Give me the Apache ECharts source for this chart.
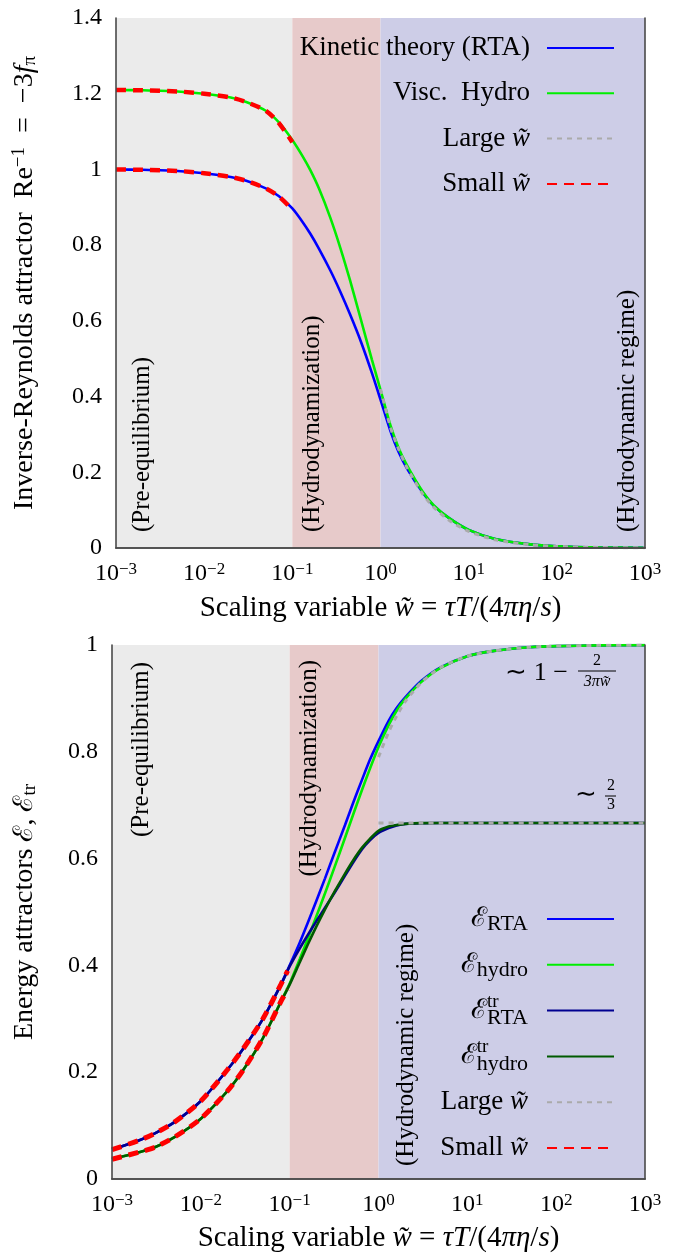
<!DOCTYPE html>
<html><head><meta charset="utf-8">
<script src="https://cdn.jsdelivr.net/npm/echarts@6/dist/echarts.min.js"></script>
<style>html,body{margin:0;padding:0;background:#fff}#c{width:687px;height:1254px}</style>
</head><body><div id="c"></div>
<script>
// ---------------- data: top panel (inverse Reynolds attractor) ----------------
const topW          = [0.001, 0.002, 0.005, 0.01, 0.02, 0.03, 0.05, 0.07, 0.1, 0.13, 0.16, 0.2, 0.27, 0.35, 0.45, 0.6, 0.8, 1, 1.3, 1.6, 2, 3, 4, 6, 10, 20, 50, 100, 300, 1000];
const topRTA        = [1.0, 0.999, 0.996, 0.99, 0.98, 0.97, 0.95, 0.93, 0.897, 0.862, 0.83, 0.791, 0.733, 0.677, 0.618, 0.545, 0.462, 0.392, 0.308, 0.254, 0.21, 0.147, 0.112, 0.079, 0.048, 0.024, 0.0095, 0.0047, 0.0016, 0.0005];
const topHydro      = [1.21, 1.209, 1.206, 1.2, 1.19, 1.178, 1.155, 1.125, 1.078, 1.036, 0.998, 0.95, 0.872, 0.793, 0.708, 0.603, 0.497, 0.418, 0.323, 0.265, 0.218, 0.149, 0.113, 0.079, 0.048, 0.024, 0.0095, 0.0047, 0.0016, 0.0005];
const topLargeW     = [1, 1.3, 1.6, 2, 3, 4, 6, 10, 20, 50, 100, 300, 1000];
const topLarge      = [0.42, 0.318, 0.262, 0.212, 0.143, 0.108, 0.073, 0.044, 0.0215, 0.0085, 0.0042, 0.0014, 0.0004];
const topSmallW     = [0.001, 0.002, 0.005, 0.01, 0.02, 0.03, 0.05, 0.07, 0.1];
const topSmallRTA   = [1.0, 0.999, 0.996, 0.99, 0.98, 0.97, 0.95, 0.929, 0.894];
const topSmallHydro = [1.21, 1.209, 1.206, 1.2, 1.19, 1.178, 1.155, 1.123, 1.072];

// ---------------- data: bottom panel (energy attractors) ----------------
const botW         = [0.001, 0.002, 0.003, 0.005, 0.01, 0.02, 0.03, 0.05, 0.08, 0.1, 0.13, 0.16, 0.2, 0.25, 0.32, 0.42, 0.52, 0.65, 0.8, 1, 1.3, 1.6, 2, 3, 5, 10, 20, 50, 100, 300, 1000];
const botERTA      = [0.055, 0.072, 0.085, 0.106, 0.146, 0.205, 0.244, 0.3, 0.365, 0.4, 0.443, 0.48, 0.521, 0.563, 0.611, 0.663, 0.705, 0.747, 0.785, 0.82, 0.858, 0.882, 0.902, 0.932, 0.958, 0.979, 0.989, 0.9957, 0.9979, 0.9993, 0.9998];
const botEhydro    = [0.037, 0.05, 0.059, 0.078, 0.113, 0.165, 0.204, 0.264, 0.333, 0.366, 0.412, 0.45, 0.492, 0.535, 0.584, 0.639, 0.683, 0.728, 0.768, 0.809, 0.85, 0.877, 0.899, 0.93, 0.957, 0.979, 0.989, 0.9957, 0.9979, 0.9993, 0.9998];
const botEtrRTA    = [0.055, 0.072, 0.085, 0.106, 0.146, 0.205, 0.244, 0.3, 0.364, 0.398, 0.432, 0.457, 0.483, 0.508, 0.536, 0.568, 0.593, 0.617, 0.634, 0.648, 0.657, 0.662, 0.665, 0.6663, 0.6667, 0.6667, 0.6667, 0.6667, 0.6667, 0.6667, 0.6667];
const botEtrHydro  = [0.037, 0.05, 0.059, 0.078, 0.113, 0.165, 0.204, 0.264, 0.332, 0.364, 0.406, 0.439, 0.473, 0.505, 0.538, 0.572, 0.597, 0.62, 0.637, 0.652, 0.66, 0.663, 0.665, 0.6664, 0.6667, 0.6667, 0.6667, 0.6667, 0.6667, 0.6667, 0.6667];
const botLargeW    = [1, 1.3, 1.6, 2, 3, 5, 10, 20, 50, 100, 300, 1000];
const botLargeE    = [0.79, 0.837, 0.867, 0.894, 0.929, 0.958, 0.979, 0.989, 0.9958, 0.9979, 0.9993, 0.9998];
const botLargeEtr  = [0.6667, 0.6667, 0.6667, 0.6667, 0.6667, 0.6667, 0.6667, 0.6667, 0.6667, 0.6667, 0.6667, 0.6667];
const botSmallW    = [0.001, 0.002, 0.003, 0.005, 0.01, 0.02, 0.03, 0.05, 0.08, 0.095];
const botSmallRTA  = [0.055, 0.072, 0.085, 0.106, 0.146, 0.205, 0.244, 0.3, 0.365, 0.39];
const botSmallHydro= [0.037, 0.05, 0.059, 0.078, 0.113, 0.165, 0.204, 0.264, 0.333, 0.355];

// regimes (x ranges) and labels
const regimeBounds = [[0.001, 0.1], [0.1, 1], [1, 1000]];
const regimeNames  = ['(Pre-equilibrium)', '(Hydrodynamization)', '(Hydrodynamic regime)'];
const xMin = 0.001, xMax = 1000;
const topYMax = 1.4, botYMax = 1, yStep = 0.2;

// ---------------- styling ----------------
const FONT = 'Liberation Serif';
const C = { rta:'#0000ff', hydro:'#00ee00', trRta:'#000090', trHydro:'#005a00', large:'#aaaaaa', small:'#ff0000',
            axis:'#4a4a4a', regime:['#ebebeb', '#e7caca', '#cdcde7'] };
const zip = (xs, ys) => xs.map((x, i) => [x, ys[i]]);

const tickRich = {
  b: { fontFamily: FONT, fontSize: 24, lineHeight: 26, color: '#000' },
  s: { fontFamily: FONT, fontSize: 17, lineHeight: 12, verticalAlign: 'top', color: '#000' }
};
const xNameRich = {
  r: { fontFamily: FONT, fontSize: 29, lineHeight: 30, color: '#000' },
  i: { fontFamily: FONT, fontSize: 29, lineHeight: 30, fontStyle: 'italic', color: '#000' }
};
const yNameRich = {
  r:   { fontFamily: FONT, fontSize: 28, lineHeight: 30, color: '#000' },
  i:   { fontFamily: FONT, fontSize: 28, lineHeight: 30, fontStyle: 'italic', color: '#000' },
  sup: { fontFamily: FONT, fontSize: 19, lineHeight: 12, verticalAlign: 'top', color: '#000' },
  sub: { fontFamily: FONT, fontSize: 19, lineHeight: 12, verticalAlign: 'bottom', color: '#000' },
  E:   { fontFamily: 'DejaVu Serif', fontSize: 27, lineHeight: 30, color: '#000' }
};
const legendRich = {
  r:    { fontFamily: FONT, fontSize: 27, lineHeight: 40, color: '#000' },
  i:    { fontFamily: FONT, fontSize: 27, lineHeight: 40, fontStyle: 'italic', color: '#000' },
  E:    { fontFamily: 'DejaVu Serif', fontSize: 27, lineHeight: 40, align: 'left', color: '#000' },
  sub:  { fontFamily: FONT, fontSize: 22, lineHeight: 40, height: 30, verticalAlign: 'bottom', align: 'left', color: '#000' },
  subT: { fontFamily: FONT, fontSize: 22, lineHeight: 40, height: 24, verticalAlign: 'bottom', align: 'left', color: '#000' },
  sup:  { fontFamily: FONT, fontSize: 19, lineHeight: 40, height: 22, verticalAlign: 'top', align: 'left', width: 0, color: '#000' }
};
const legendText = {
  'Kinetic theory (RTA)': '{r|Kinetic theory (RTA)}',
  'Visc. Hydro': '{r|Visc.  Hydro}',
  'Large w\u0303': '{r|Large }{i|w\u0303}',
  'Small w\u0303': '{r|Small }{i|w\u0303}',
  'E_RTA': '{E|\u2130}{sub|RTA}',
  'E_hydro': '{E|\u2130}{sub|hydro}',
  'Etr_RTA': '{E|\u2130}{sup|tr}{subT|RTA}',
  'Etr_hydro': '{E|\u2130}{sup|tr}{subT|hydro}'
};

function logLabel(v) {
  const e = Math.round(Math.log10(v));
  return '{b|10}{s|' + (e < 0 ? '\u2212' + (-e) : e) + '}';
}
function numLabel(v) {
  return Math.abs(v - Math.round(v)) < 1e-9 ? String(Math.round(v)) : v.toFixed(1);
}

function mainX(grid, gap) {
  return {
    type: 'log', logBase: 10, gridIndex: grid, min: xMin, max: xMax, z: 10,
    axisLine: { show: true, lineStyle: { color: C.axis, width: 1.6 } },
    axisTick: { show: false }, splitLine: { show: false }, minorTick: { show: false },
    axisLabel: { formatter: logLabel, rich: tickRich, margin: 13, showMinLabel: true, showMaxLabel: true },
    name: '{r|Scaling variable }{i|w\u0303}{r| = }{i|\u03c4T}{r|/(4}{i|\u03c0\u03b7}{r|/}{i|s}{r|)}',
    nameLocation: 'middle', nameGap: gap, nameTextStyle: { rich: xNameRich }
  };
}
function frameX(grid) {
  return { type: 'value', gridIndex: grid, position: 'top', min: 0, max: 1, z: 10,
    axisLine: { show: true, lineStyle: { color: C.axis, width: 1.6 } },
    axisTick: { show: false }, axisLabel: { show: false }, splitLine: { show: false } };
}
function frameY(grid) {
  return { type: 'value', gridIndex: grid, position: 'right', min: 0, max: 1, z: 10,
    axisLine: { show: true, lineStyle: { color: C.axis, width: 1.6 } },
    axisTick: { show: false }, axisLabel: { show: false }, splitLine: { show: false } };
}
function mainY(grid, max, name, gap) {
  return {
    type: 'value', gridIndex: grid, min: 0, max: max, interval: yStep, z: 10,
    axisLine: { show: true, lineStyle: { color: C.axis, width: 1.6 } },
    axisTick: { show: false }, splitLine: { show: false },
    axisLabel: { formatter: numLabel, fontFamily: FONT, fontSize: 24, color: '#000', margin: 14 },
    name: name, nameLocation: 'middle', nameGap: gap, nameTextStyle: { rich: yNameRich }
  };
}

function regimeSeries(xi, yi) {
  return {
    type: 'line', xAxisIndex: xi, yAxisIndex: yi, data: [[xMin, 0], [xMax, 0]], silent: true, z: 1,
    symbol: 'none', lineStyle: { opacity: 0 },
    markArea: { silent: true, data: regimeBounds.map((b, k) => [
      { xAxis: b[0], itemStyle: { color: C.regime[k] } }, { xAxis: b[1] }]) }
  };
}
function curve(name, xi, yi, xs, ys, color, width, dash) {
  return {
    type: 'line', name: name, xAxisIndex: xi, yAxisIndex: yi, data: zip(xs, ys),
    symbol: 'none', smooth: 0.25, silent: true, z: 3,
    lineStyle: { color: color, width: width, type: dash || 'solid', cap: 'butt' },
    itemStyle: { color: color }
  };
}

const LARGE = 'Large w\u0303', SMALL = 'Small w\u0303';
const legendBase = {
  orient: 'vertical', right: 72, padding: 0, itemWidth: 67, itemHeight: 14,
  align: 'right', selectedMode: false, itemStyle: { opacity: 0 },
  formatter: n => legendText[n]
};
const option = {
  animation: false,
  backgroundColor: '#fff',
  grid: [
    { left: 116, right: 42, top: 18, height: 530 },
    { left: 112, right: 42, top: 645, height: 534 }
  ],
  xAxis: [ mainX(0, 45), mainX(1, 44), frameX(0), frameX(1) ],
  yAxis: [
    mainY(0, topYMax, '{r|Inverse-Reynolds attractor  Re}{sup|\u22121}{r|  =  \u22123}{i|f}{sub|\u03c0}', 76),
    mainY(1, botYMax, '{r|Energy attractors }{E|\u2130}{r|, }{E|\u2130}{sub|tr}', 72),
    frameY(0), frameY(1)
  ],
  legend: [
    Object.assign({}, legendBase, { top: 28, itemGap: 5.3,
      data: ['Kinetic theory (RTA)', 'Visc. Hydro', LARGE, SMALL],
      textStyle: { backgroundColor: 'rgba(0,0,0,0)', padding: [0, 12, 0, 0], rich: legendRich } }),
    Object.assign({}, legendBase, { top: 899, itemGap: 5.8,
      data: ['E_RTA', 'E_hydro', 'Etr_RTA', 'Etr_hydro', LARGE, SMALL],
      textStyle: { backgroundColor: 'rgba(0,0,0,0)', padding: [0, 14, 0, 0], rich: legendRich } })
  ],
  series: [
    regimeSeries(0, 0),
    curve('Kinetic theory (RTA)', 0, 0, topW, topRTA, C.rta, 2.6),
    curve('Visc. Hydro', 0, 0, topW, topHydro, C.hydro, 2.6),
    curve(LARGE, 0, 0, topLargeW, topLarge, C.large, 3, [5, 5]),
    curve(SMALL, 0, 0, topSmallW, topSmallRTA, C.small, 4.5, [10, 7]),
    curve(SMALL, 0, 0, topSmallW, topSmallHydro, C.small, 4.5, [10, 7]),

    regimeSeries(1, 1),
    curve('E_RTA', 1, 1, botW, botERTA, C.rta, 2.6),
    curve('E_hydro', 1, 1, botW, botEhydro, C.hydro, 2.6),
    curve('Etr_RTA', 1, 1, botW, botEtrRTA, C.trRta, 2.6),
    curve('Etr_hydro', 1, 1, botW, botEtrHydro, C.trHydro, 2.6),
    curve(LARGE, 1, 1, botLargeW, botLargeE, C.large, 3, [5, 5]),
    curve(LARGE, 1, 1, botLargeW, botLargeEtr, C.large, 3, [5, 5]),
    curve(SMALL, 1, 1, botSmallW, botSmallRTA, C.small, 5, [10, 7]),
    curve(SMALL, 1, 1, botSmallW, botSmallHydro, C.small, 5, [10, 7])
  ]
};

const chart = echarts.init(document.getElementById('c'), null, { renderer: 'canvas' });
chart.setOption(option);

// ---------------- annotations (regime labels, asymptotes) ----------------
function vtext(text, x, y, align) {
  return { type: 'text', x: x, y: y, rotation: Math.PI / 2, z: 50, silent: true,
    style: { text: text, fontFamily: FONT, fontSize: 25, fill: '#000', align: align, verticalAlign: 'middle' } };
}
function htext(text, x, y, size, italic, align) {
  return { type: 'text', x: x, y: y, z: 50, silent: true,
    style: { text: text, fontFamily: FONT, fontSize: size, fontStyle: italic ? 'italic' : 'normal',
      fill: '#000', align: align || 'center', verticalAlign: 'middle' } };
}
function hbar(x1, x2, y) {
  return { type: 'line', z: 50, silent: true, shape: { x1: x1, y1: y, x2: x2, y2: y }, style: { stroke: '#000', lineWidth: 1 } };
}
chart.setOption({
  graphic: { elements: [
    vtext(regimeNames[0], 142, 532, 'left'),
    vtext(regimeNames[1], 312, 532, 'left'),
    vtext(regimeNames[2], 627, 532, 'left'),
    vtext(regimeNames[0], 141, 662, 'right'),
    vtext(regimeNames[1], 309, 660, 'right'),
    vtext(regimeNames[2], 406, 1166, 'left'),
    htext('\u223c 1 \u2212', 568, 673, 26, false, 'right'),
    htext('2', 597, 661, 16, false),
    hbar(578, 616, 671),
    htext('3\u03c0w\u0303', 597, 682, 16, true),
    htext('\u223c', 586, 795, 26, false),
    htext('2', 611, 786, 16, false),
    hbar(605, 616, 796),
    htext('3', 611, 805, 16, false)
  ] }
});
</script>
</body></html>
